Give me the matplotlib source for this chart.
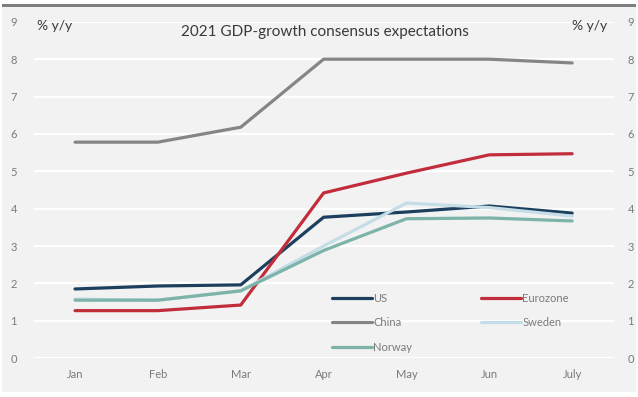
import matplotlib.pyplot as plt

months = ["Jan", "Feb", "Mar", "Apr", "May", "Jun", "July"]
us = [1.85, 1.93, 1.96, 3.77, 3.91, 4.07, 3.88]
eurozone = [1.27, 1.27, 1.42, 4.42, 4.95, 5.44, 5.47]
china = [5.78, 5.78, 6.18, 8.0, 8.0, 8.0, 7.9]
sweden = [1.58, 1.55, 1.8, 3.0, 4.15, 4.03, 3.8]
norway = [1.55, 1.55, 1.8, 2.88, 3.73, 3.75, 3.67]

COLORS = {
    "US": "#1d3f5e",
    "Eurozone": "#c22d3c",
    "China": "#858585",
    "Sweden": "#c4dde6",
    "Norway": "#7db3a9",
}
BG = "#f2f2f2"
INK = "#3a3a3a"
TICK = "#7a7a7a"

plt.rcParams["font.family"] = ["Lato", "DejaVu Sans"]

fig = plt.figure(figsize=(6.38, 3.97), dpi=100)
fig.patch.set_facecolor("white")
# light panel with dark top strip
fig.patches.append(plt.Rectangle((0.003, 0.012), 0.994, 0.975, transform=fig.transFigure,
                                 facecolor=BG, edgecolor="none", zorder=-2))
fig.patches.append(plt.Rectangle((0.003, 0.982), 0.994, 0.008, transform=fig.transFigure,
                                 facecolor="#7f7f7f", edgecolor="none", zorder=-1))

ax = fig.add_axes([0.0527, 0.098, 0.909, 0.847])
ax.set_facecolor("none")
x = range(len(months))
series = [("US", us), ("Eurozone", eurozone), ("China", china), ("Sweden", sweden), ("Norway", norway)]
lines = {}
for name, vals in series:
    (ln,) = ax.plot(x, vals, color=COLORS[name], lw=2.3, label=name, solid_capstyle="round")
    lines[name] = ln

ax.set_xlim(-0.5, 6.5)
ax.set_ylim(0, 9)
ax.set_yticks(range(0, 10))
ax.grid(axis="y", color="white", lw=1.6)
ax.set_axisbelow(True)
for s in ax.spines.values():
    s.set_visible(False)
ax.set_xticks(list(x), months)
ax.tick_params(axis="both", length=0, labelsize=8, colors=TICK)
ax.tick_params(axis="x", pad=8)
ax.tick_params(axis="y", pad=12)

ax2 = ax.twinx()
ax2.set_ylim(0, 9)
ax2.set_yticks(range(0, 10))
for s in ax2.spines.values():
    s.set_visible(False)
ax2.tick_params(axis="y", length=0, labelsize=8, colors=TICK, pad=10)

fig.text(0.51, 0.92, "2021 GDP-growth consensus expectations", ha="center", va="center",
         fontsize=11, color=INK)
fig.text(0.058, 0.935, "% y/y", ha="left", va="center", fontsize=10, color=INK)
fig.text(0.952, 0.935, "% y/y", ha="right", va="center", fontsize=10, color=INK)

order = ["US", "China", "Norway", "Eurozone", "Sweden"]
ax.legend([lines[n] for n in order], order, ncol=2, frameon=False, loc="upper left",
          bbox_to_anchor=(0.507, 0.207), fontsize=8, labelcolor=TICK,
          handlelength=3.6, handletextpad=0.1, columnspacing=6.2, labelspacing=1.2,
          borderaxespad=0)

fig.savefig("out.png", dpi=100)
